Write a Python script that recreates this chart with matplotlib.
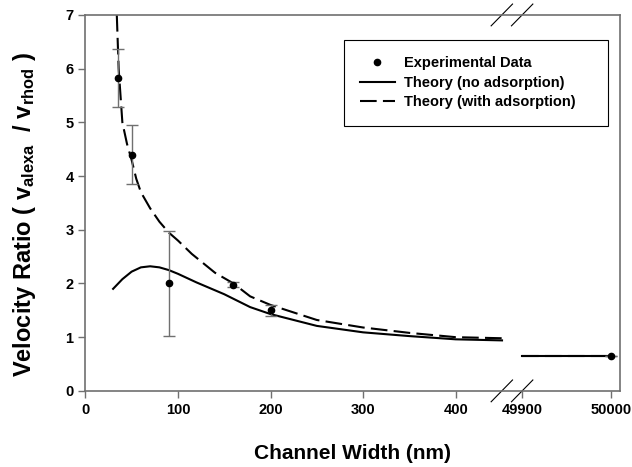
import matplotlib
matplotlib.use('Agg')
import matplotlib.pyplot as plt
from matplotlib.lines import Line2D
import numpy as np

plt.rcParams['font.family'] = ['Liberation Sans', 'DejaVu Sans']
plt.rcParams['font.weight'] = 'bold'
plt.rcParams['mathtext.fontset'] = 'custom'
plt.rcParams['mathtext.rm'] = 'Liberation Sans:bold'
plt.rcParams['mathtext.bf'] = 'Liberation Sans:bold'
plt.rcParams['mathtext.it'] = 'Liberation Sans:bold'

# Data
exp_x = [35, 50, 90, 160, 200, 50000]
exp_y = [5.82, 4.4, 2.0, 1.98, 1.5, 0.65]
exp_err = [0.54, 0.55, 0.97, 0.05, 0.1, 0.0]

noads_x = [30, 40, 50, 60, 70, 80, 90, 100, 120, 150, 178, 200, 250, 300, 350, 400, 450]
noads_y = [1.9, 2.08, 2.22, 2.3, 2.32, 2.3, 2.25, 2.18, 2.02, 1.8, 1.56, 1.43, 1.21, 1.09, 1.02, 0.96, 0.94]

ads_x = [34, 36, 40, 45, 50, 55, 60, 70, 80, 90, 100, 115, 140, 160, 178, 200, 250, 300, 350, 400, 450]
ads_y = [7.0, 6.0, 5.0, 4.6, 4.3, 3.95, 3.7, 3.4, 3.15, 2.95, 2.8, 2.55, 2.2, 2.0, 1.76, 1.6, 1.32, 1.18, 1.08, 1.0, 0.98]

# far segment (after the axis break)
far_x = [49900, 50000]
far_noads_y = [0.65, 0.65]
far_ads_y = [0.65, 0.65]

xticks = [0, 100, 200, 300, 400, 49900, 50000]
yticks = [0, 1, 2, 3, 4, 5, 6, 7]


def brk(x):
    # map the real channel width onto the broken axis
    x = np.asarray(x, dtype=float)
    return np.where(x < 1000, x, 472 + (x - 49900) * 0.96)


fig = plt.figure(figsize=(6.32, 4.67), dpi=100)
ax = fig.add_axes([0.135, 0.163, 0.846, 0.805])

ax.plot(brk(noads_x), noads_y, color='black', lw=1.5)
ax.plot(brk(ads_x), ads_y, color='black', lw=1.5, dashes=(8, 3))
ax.plot(brk(far_x), far_noads_y, color='black', lw=1.5)
ax.plot(brk(far_x), far_ads_y, color='black', lw=1.5, dashes=(8, 3))

ax.errorbar(brk(exp_x), exp_y, yerr=exp_err, fmt='o', color='black', ms=4.5,
            ecolor='#707070', elinewidth=1, capsize=4, capthick=1, zorder=5)

ax.set_xlim(0, 577.4)
ax.set_ylim(0, 7)
ax.set_xticks(brk(xticks))
ax.set_xticklabels([str(t) for t in xticks])
ax.set_yticks(yticks)

for s in ax.spines.values():
    s.set_color('#707070')
    s.set_linewidth(1.2)
ax.tick_params(axis='both', direction='out', length=5, width=1, color='#707070',
               labelsize=10.5, labelcolor='black')

ax.set_xlabel('Channel Width (nm)', fontsize=15, fontweight='bold', labelpad=20)
ax.set_ylabel('Velocity Ratio ( v$_{alexa}$  / v$_{rhod}$ )', fontsize=17,
              fontweight='bold')
ax.yaxis.set_label_coords(-0.088, 0.47)

# break marks on top and bottom spines
for cx in [0.779, 0.817]:
    for cy in [0.0, 1.0]:
        ax.plot([cx - 0.02, cx + 0.02], [cy - 0.029, cy + 0.029], color='black',
                lw=0.8, transform=ax.transAxes, clip_on=False)

handles = [
    Line2D([], [], color='black', marker='o', ms=4.5, ls='none'),
    Line2D([], [], color='black', lw=1.5),
    Line2D([], [], color='black', lw=1.5, dashes=(8, 3)),
]
labels = ['Experimental Data', 'Theory (no adsorption)', 'Theory (with adsorption)    ']
leg = ax.legend(handles, labels, loc='upper right', bbox_to_anchor=(0.977, 0.934),
                fancybox=False, edgecolor='black', framealpha=1,
                prop={'size': 10.5, 'weight': 'bold'}, handlelength=2.4,
                handletextpad=0.6, borderpad=1.1, labelspacing=0.4,
                borderaxespad=0)
leg.get_frame().set_linewidth(0.8)

fig.savefig('out.png', dpi=100)
